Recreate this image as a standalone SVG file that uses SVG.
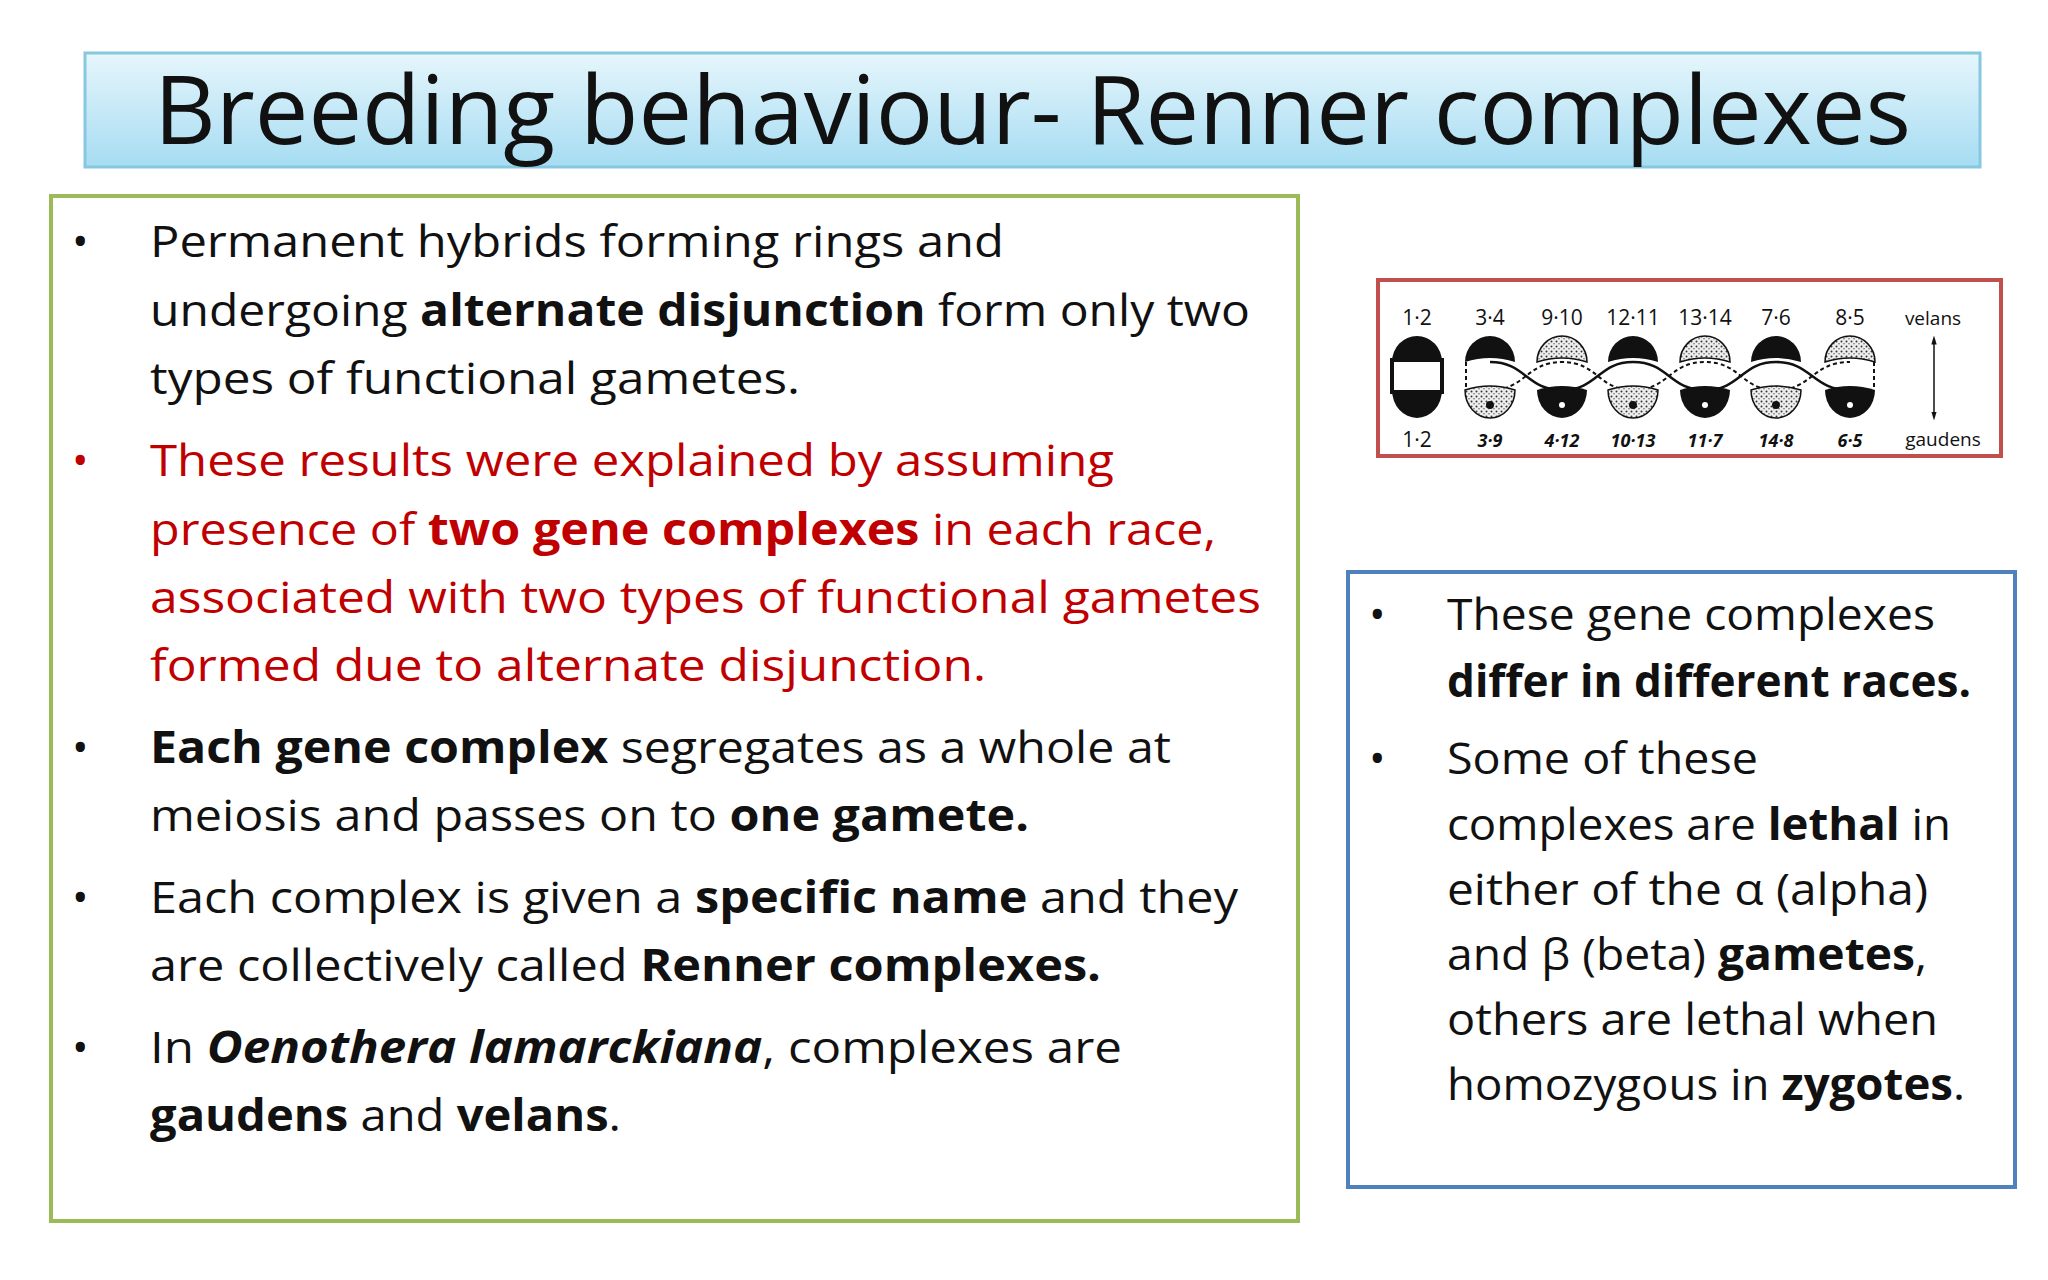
<svg xmlns="http://www.w3.org/2000/svg" width="2048" height="1280" viewBox="0 0 2048 1280">
<defs>
<linearGradient id="tg" x1="0" y1="0" x2="0" y2="1"><stop offset="0" stop-color="#e6f6fc"/><stop offset="1" stop-color="#a6dcf2"/></linearGradient>
<pattern id="st" width="5" height="5" patternUnits="userSpaceOnUse"><rect width="5" height="5" fill="#eee"/><circle cx="1.5" cy="1.5" r="1" fill="#333"/><circle cx="4" cy="3.8" r="0.8" fill="#666"/></pattern>
<marker id="ah" viewBox="0 0 10 10" refX="5" refY="5" markerWidth="6" markerHeight="6" orient="auto-start-reverse"><path d="M0,2 L10,5 L0,8 z" fill="#111"/></marker>
</defs>
<style>
text{font-family:"Open Sans","Noto Sans",sans-serif;fill:#111}
.t{font-size:44px}
.r{fill:#c00000}
.b{font-weight:bold}
.lab{font-family:"Liberation Sans",sans-serif;font-size:21px}
.it{font-style:italic;font-weight:bold}
.blk{fill:#111}
.stp{fill:url(#st);stroke:#111;stroke-width:1.5}
</style>
<rect width="2048" height="1280" fill="#fff"/>
<g id="title">
<rect x="85" y="53" width="1895" height="114" fill="url(#tg)" stroke="#86c8e0" stroke-width="3"/>
<text x="154" y="144" font-size="96" textLength="1757" lengthAdjust="spacingAndGlyphs">Breeding behaviour- Renner complexes</text>
</g>
<g id="left-box">
<rect x="51" y="196" width="1247" height="1025" fill="#fff" stroke="#9bbb59" stroke-width="4"/>
<g class="t">
<text x="72" y="257">•</text>
<text x="150" y="257" textLength="854" lengthAdjust="spacingAndGlyphs">Permanent hybrids forming rings and</text>
<text x="150" y="326" textLength="1100" lengthAdjust="spacingAndGlyphs">undergoing <tspan class="b">alternate disjunction</tspan> form only two</text>
<text x="150" y="394" textLength="650" lengthAdjust="spacingAndGlyphs">types of functional gametes.</text>
<text x="72" y="476" class="r">•</text>
<text x="150" y="476" class="r" textLength="964" lengthAdjust="spacingAndGlyphs">These results were explained by assuming</text>
<text x="150" y="545" class="r" textLength="1066" lengthAdjust="spacingAndGlyphs">presence of <tspan class="b r">two gene complexes</tspan> in each race,</text>
<text x="150" y="613" class="r" textLength="1111" lengthAdjust="spacingAndGlyphs">associated with two types of functional gametes</text>
<text x="150" y="681" class="r" textLength="836" lengthAdjust="spacingAndGlyphs">formed due to alternate disjunction.</text>
<text x="72" y="763">•</text>
<text x="150" y="763" textLength="1021" lengthAdjust="spacingAndGlyphs"><tspan class="b">Each gene complex</tspan> segregates as a whole at</text>
<text x="150" y="831" textLength="879" lengthAdjust="spacingAndGlyphs">meiosis and passes on to <tspan class="b">one gamete.</tspan></text>
<text x="72" y="913">•</text>
<text x="150" y="913" textLength="1088" lengthAdjust="spacingAndGlyphs">Each complex is given a <tspan class="b">specific name</tspan> and they</text>
<text x="150" y="981" textLength="951" lengthAdjust="spacingAndGlyphs">are collectively called <tspan class="b">Renner complexes.</tspan></text>
<text x="72" y="1063">•</text>
<text x="150" y="1063" textLength="972" lengthAdjust="spacingAndGlyphs">In <tspan class="b" font-style="italic">Oenothera lamarckiana</tspan>, complexes are</text>
<text x="150" y="1131" textLength="471" lengthAdjust="spacingAndGlyphs"><tspan class="b">gaudens</tspan> and <tspan class="b">velans</tspan>.</text>
</g>
</g>
<g id="figure">
<rect x="1378" y="280" width="623" height="176" fill="#fff" stroke="#c0504d" stroke-width="4"/>
<g class="lab">
<text x="1417" y="325" text-anchor="middle">1·2</text>
<text x="1490" y="325" text-anchor="middle">3·4</text>
<text x="1562" y="325" text-anchor="middle">9·10</text>
<text x="1633" y="325" text-anchor="middle">12·11</text>
<text x="1705" y="325" text-anchor="middle">13·14</text>
<text x="1776" y="325" text-anchor="middle">7·6</text>
<text x="1850" y="325" text-anchor="middle">8·5</text>
<text x="1933" y="325" text-anchor="middle" font-size="19">velans</text>
<text x="1417" y="447" text-anchor="middle">1·2</text>
<text x="1490" y="447" text-anchor="middle" class="it" font-size="18">3·9</text>
<text x="1562" y="447" text-anchor="middle" class="it" font-size="18">4·12</text>
<text x="1633" y="447" text-anchor="middle" class="it" font-size="18">10·13</text>
<text x="1705" y="447" text-anchor="middle" class="it" font-size="18">11·7</text>
<text x="1776" y="447" text-anchor="middle" class="it" font-size="18">14·8</text>
<text x="1850" y="447" text-anchor="middle" class="it" font-size="18">6·5</text>
<text x="1943" y="446" text-anchor="middle" font-size="19">gaudens</text>
</g>
<line x1="1934" y1="340" x2="1934" y2="416" stroke="#111" stroke-width="1.5" marker-start="url(#ah)" marker-end="url(#ah)"/>
<path d="M1490,362 C1526,362 1526,390 1562,390 C1598,390 1598,362 1633,362 C1669,362 1669,390 1705,390 C1741,390 1741,362 1776,362 C1812,362 1812,390 1850,390" fill="none" stroke="#111" stroke-width="2.5"/>
<path d="M1490,390 C1526,390 1526,362 1562,362 C1598,362 1598,390 1633,390 C1669,390 1669,362 1705,362 C1741,362 1741,390 1776,390 C1812,390 1812,362 1850,362" fill="none" stroke="#111" stroke-width="2" stroke-dasharray="4,3"/>
<line x1="1466" y1="362" x2="1466" y2="390" stroke="#111" stroke-width="2" stroke-dasharray="4,3"/>
<line x1="1874" y1="362" x2="1874" y2="390" stroke="#111" stroke-width="2" stroke-dasharray="4,3"/>
<path d="M1392,362 A25,26 0 0 1 1442,362 Z M1392,390 A25,28 0 0 0 1442,390 Z" class="blk"/>
<rect x="1392" y="360" width="50" height="32" fill="#fff" stroke="#111" stroke-width="4"/>
<path d="M1465,362 A25,26 0 0 1 1515,362 Q1490,354 1465,362 Z" class="blk"/>
<path d="M1537,362 A25,26 0 0 1 1587,362 Q1562,354 1537,362 Z" class="stp"/>
<path d="M1608,362 A25,26 0 0 1 1658,362 Q1633,354 1608,362 Z" class="blk"/>
<path d="M1680,362 A25,26 0 0 1 1730,362 Q1705,354 1680,362 Z" class="stp"/>
<path d="M1751,362 A25,26 0 0 1 1801,362 Q1776,354 1751,362 Z" class="blk"/>
<path d="M1825,362 A25,26 0 0 1 1875,362 Q1850,354 1825,362 Z" class="stp"/>
<path d="M1465,390 A25,28 0 0 0 1515,390 Q1490,382 1465,390 Z" class="stp"/>
<path d="M1537,390 A25,28 0 0 0 1587,390 Q1562,382 1537,390 Z" class="blk"/>
<path d="M1608,390 A25,28 0 0 0 1658,390 Q1633,382 1608,390 Z" class="stp"/>
<path d="M1680,390 A25,28 0 0 0 1730,390 Q1705,382 1680,390 Z" class="blk"/>
<path d="M1751,390 A25,28 0 0 0 1801,390 Q1776,382 1751,390 Z" class="stp"/>
<path d="M1825,390 A25,28 0 0 0 1875,390 Q1850,382 1825,390 Z" class="blk"/>
<circle cx="1490" cy="405" r="4" fill="#111"/>
<circle cx="1562" cy="405" r="3" fill="#fff"/>
<circle cx="1633" cy="405" r="4" fill="#111"/>
<circle cx="1705" cy="405" r="3" fill="#fff"/>
<circle cx="1776" cy="405" r="4" fill="#111"/>
<circle cx="1850" cy="405" r="3" fill="#fff"/>
</g>
<g id="right-box">
<rect x="1348" y="572" width="667" height="615" fill="#fff" stroke="#4f81bd" stroke-width="4"/>
<g class="t">
<text x="1369" y="630">•</text>
<text x="1447" y="630" textLength="488" lengthAdjust="spacingAndGlyphs">These gene complexes</text>
<text x="1447" y="697" class="b" textLength="524" lengthAdjust="spacingAndGlyphs">differ in different races.</text>
<text x="1369" y="774">•</text>
<text x="1447" y="774" textLength="311" lengthAdjust="spacingAndGlyphs">Some of these</text>
<text x="1447" y="840" textLength="504" lengthAdjust="spacingAndGlyphs">complexes are <tspan class="b">lethal</tspan> in</text>
<text x="1447" y="905" textLength="481" lengthAdjust="spacingAndGlyphs">either of the α (alpha)</text>
<text x="1447" y="970" textLength="480" lengthAdjust="spacingAndGlyphs">and β (beta) <tspan class="b">gametes</tspan>,</text>
<text x="1447" y="1035" textLength="491" lengthAdjust="spacingAndGlyphs">others are lethal when</text>
<text x="1447" y="1100" textLength="518" lengthAdjust="spacingAndGlyphs">homozygous in <tspan class="b">zygotes</tspan>.</text>
</g>
</g>
</svg>
